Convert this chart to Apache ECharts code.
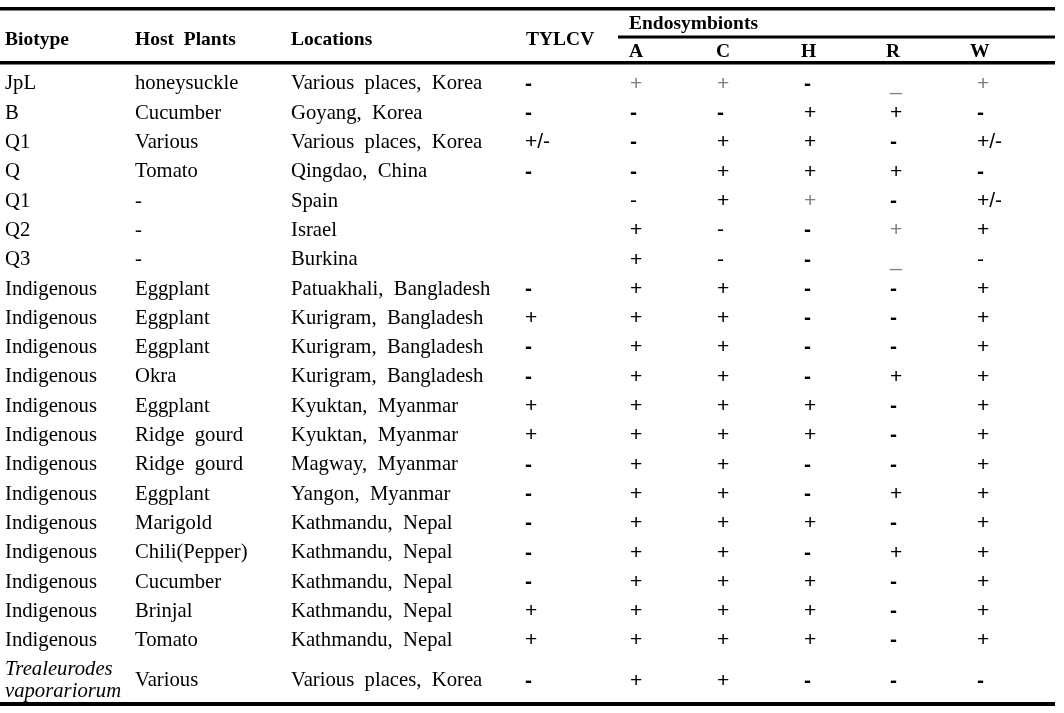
<!DOCTYPE html>
<html>
<head>
<meta charset="utf-8">
<script src="https://cdn.jsdelivr.net/npm/echarts@6/dist/echarts.min.js"></script>
<style>
html,body{margin:0;padding:0;background:#fff;}
#main{width:1064px;height:713px;}
</style>
</head>
<body>
<div id="main"></div>
<script>
// ---------- DATA ----------
const biotypes = ['JpL','B','Q1','Q','Q1','Q2','Q3',
  'Indigenous','Indigenous','Indigenous','Indigenous','Indigenous','Indigenous','Indigenous',
  'Indigenous','Indigenous','Indigenous','Indigenous','Indigenous','Indigenous',
  'Trealeurodes\nvaporariorum'];
const hostPlants = ['honeysuckle','Cucumber','Various','Tomato','-','-','-',
  'Eggplant','Eggplant','Eggplant','Okra','Eggplant','Ridge  gourd','Ridge  gourd',
  'Eggplant','Marigold','Chili(Pepper)','Cucumber','Brinjal','Tomato','Various'];
const locations = ['Various  places,  Korea','Goyang,  Korea','Various  places,  Korea','Qingdao,  China',
  'Spain','Israel','Burkina',
  'Patuakhali,  Bangladesh','Kurigram,  Bangladesh','Kurigram,  Bangladesh','Kurigram,  Bangladesh',
  'Kyuktan,  Myanmar','Kyuktan,  Myanmar','Magway,  Myanmar','Yangon,  Myanmar',
  'Kathmandu,  Nepal','Kathmandu,  Nepal','Kathmandu,  Nepal','Kathmandu,  Nepal','Kathmandu,  Nepal',
  'Various  places,  Korea'];
const tylcv = ['-','-','+/-','-','','','','-','+','-','-','+','+','-','-','-','-','-','+','+','-'];
const endoA = ['+','-','-','-','-','+','+','+','+','+','+','+','+','+','+','+','+','+','+','+','+'];
const endoC = ['+','-','+','+','+','-','-','+','+','+','+','+','+','+','+','+','+','+','+','+','+'];
const endoH = ['-','+','+','+','+','-','-','-','-','-','-','+','+','-','-','+','-','+','+','+','-'];
const endoR = ['_','+','-','+','-','+','_','-','-','-','+','-','-','-','+','-','+','-','-','-','-'];
const endoW = ['+','-','+/-','-','+/-','+','-','+','+','+','+','+','+','+','+','+','+','+','+','+','-'];
const headerMain = ['Biotype','Host  Plants','Locations','TYLCV'];
const headerGroup = 'Endosymbionts';
const headerSub = ['A','C','H','R','W'];

// ---------- LAYOUT / STYLE ----------
const colX = [5, 135, 291, 525, 630, 717, 804, 890, 977];
const subHeadX = [629, 716, 801, 886, 970];
const faintCells = ['0:4','0:5','0:7','0:8','4:6','5:7','6:7'];
const thinCells = ['4:4','5:5','6:5','6:8'];
const italicRows = [20];
const nRows = biotypes.length;
const rowTop = 67.35, rowStep = 29.3, textShift = 2;

const columns = [biotypes, hostPlants, locations, tylcv, endoA, endoC, endoH, endoR, endoW];
const cells = [];
columns.forEach((arr, c) => {
  arr.forEach((txt, r) => { if (txt !== '') cells.push([colX[c], r, txt, c]); });
});

const serif = '"Liberation Serif","Times New Roman",serif';
const sans = '"Liberation Sans",Arial,sans-serif';

function renderItem(params, api) {
  const r = api.value(1);
  const c = api.value(3);
  const txt = cells[params.dataIndex][2];
  const pt = api.coord([api.value(0), r]);
  let y = pt[1] + textShift;
  if (r === nRows - 1) y += 11;
  const key = r + ':' + c;
  let style;
  if (c < 3) {
    style = {
      text: txt, fontFamily: serif, fontSize: 20.7,
      fontStyle: italicRows.indexOf(r) >= 0 && c === 0 ? 'italic' : 'normal',
      fill: '#000', align: 'left', verticalAlign: 'middle', lineHeight: 22
    };
  } else {
    let fill = '#000', weight = 'normal';
    if (faintCells.indexOf(key) >= 0) fill = '#808080';
    else if (thinCells.indexOf(key) >= 0) weight = 'normal';
    else if (txt === '-') weight = 'bold';
    style = {
      text: txt, fontFamily: sans, fontSize: 21, fontWeight: weight,
      fill: fill, align: 'left', verticalAlign: 'middle'
    };
  }
  return { type: 'text', x: pt[0], y: y, style: style };
}

const graphics = [
  { type: 'rect', shape: { x: 0, y: 7, width: 1055, height: 3.5 }, style: { fill: '#000' } },
  { type: 'rect', shape: { x: 618, y: 35.5, width: 437, height: 3 }, style: { fill: '#000' } },
  { type: 'rect', shape: { x: 0, y: 61, width: 1055, height: 3.5 }, style: { fill: '#000' } },
  { type: 'rect', shape: { x: 0, y: 702, width: 1055, height: 4 }, style: { fill: '#000' } }
];
const headX = [5, 135, 291, 526];
const headFont = 'bold 19.5px ' + serif;
headerMain.forEach((t, i) => graphics.push({
  type: 'text', x: headX[i], y: 40,
  style: { text: t, font: headFont, fill: '#000', align: 'left', verticalAlign: 'middle' }
}));
graphics.push({
  type: 'text', x: 629, y: 24,
  style: { text: headerGroup, font: headFont, fill: '#000', align: 'left', verticalAlign: 'middle' }
});
headerSub.forEach((t, i) => graphics.push({
  type: 'text', x: subHeadX[i], y: 52,
  style: { text: t, font: headFont, fill: '#000', align: 'left', verticalAlign: 'middle' }
}));

const chart = echarts.init(document.getElementById('main'));
chart.setOption({
  animation: false,
  backgroundColor: '#fff',
  grid: { left: 0, right: 0, top: rowTop, height: rowStep * nRows },
  xAxis: { type: 'value', min: 0, max: 1064, show: false },
  yAxis: { type: 'value', min: -0.5, max: nRows - 0.5, inverse: true, show: false },
  graphic: graphics,
  series: [{
    type: 'custom',
    renderItem: renderItem,
    data: cells,
    clip: false
  }]
});
</script>
</body>
</html>
